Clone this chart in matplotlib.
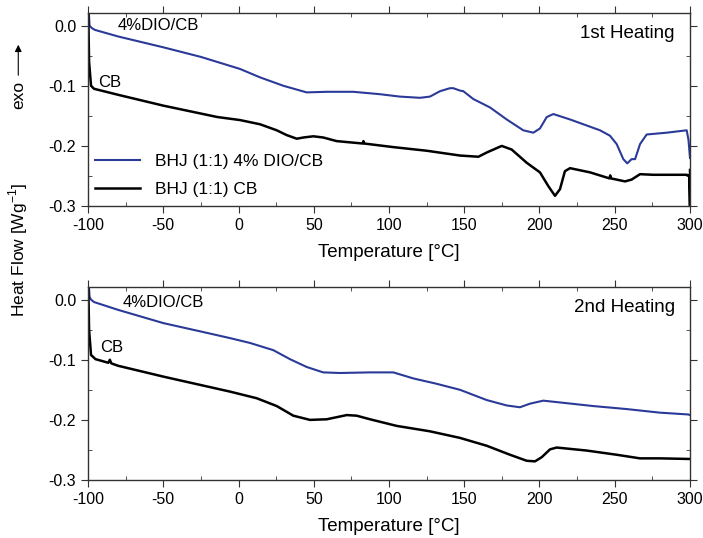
import numpy as np
import matplotlib.pyplot as plt
from matplotlib.ticker import MultipleLocator

plt.rcParams['font.family'] = ['Liberation Sans', 'DejaVu Sans']
plt.rcParams['axes.unicode_minus'] = False

# 1st heating, 4% DIO/CB
t1_dio = [-100, -99, -97.5, -95.5, -80, -50, -25, 1, 14.3, 29.8, 45.3, 58.6, 76.3, 94, 107.3, 120.6, 127.2,
          133.9, 140.5, 142.7, 147.2, 149.4, 156, 167.1, 178.2, 189.2, 195.9, 200.3, 204.8, 209.2, 220.3, 229.1,
          240.2, 246.8, 251.3, 255.7, 258.3, 261.2, 263.5, 266.8, 271.2, 284.5, 297.8, 299, 300]
h1_dio = [0.05, 0.0, -0.004, -0.007, -0.018, -0.036, -0.052, -0.072, -0.086, -0.100, -0.111, -0.110, -0.110,
          -0.114, -0.118, -0.120, -0.118, -0.109, -0.104, -0.104, -0.108, -0.109, -0.122, -0.136, -0.156, -0.174,
          -0.178, -0.171, -0.152, -0.147, -0.156, -0.164, -0.174, -0.183, -0.197, -0.222, -0.229, -0.222, -0.222,
          -0.197, -0.181, -0.178, -0.174, -0.190, -0.220]
# 1st heating, CB
t1_cb = [-100, -99.3, -98, -96, -80, -50, -14, 1, 14.3, 25.4, 32, 38.7, 43.1, 49.7, 56.3, 65.2, 82.5, 83, 83.5,
         102.9, 125, 147.2, 159.4, 164.9, 174.9, 181.5, 191.5, 200.3, 205.9, 210.3, 213.6, 216.9, 220.3, 233.6,
         246.5, 247, 247.5, 256.8, 261.2, 266.8, 275.6, 297.8, 299.5, 300, 300]
h1_cb = [0.05, -0.06, -0.100, -0.105, -0.115, -0.133, -0.152, -0.157, -0.164, -0.174, -0.182, -0.188, -0.186,
         -0.184, -0.186, -0.192, -0.196, -0.192, -0.196, -0.202, -0.208, -0.216, -0.218, -0.211, -0.200, -0.206,
         -0.228, -0.244, -0.267, -0.283, -0.272, -0.242, -0.237, -0.244, -0.254, -0.249, -0.254, -0.259, -0.256,
         -0.247, -0.248, -0.248, -0.250, -0.300, -0.240]

# 2nd heating, 4% DIO/CB
t2_dio = [-100, -99, -98, -96, -80, -50, -25, -5.6, 7.6, 23.1, 34.2, 45.3, 56.3, 67.4, 87.4, 102.9, 116.1,
          131.7, 147.2, 164.9, 178.2, 187, 193.7, 202.5, 213.6, 235.7, 257.9, 280.1, 298.9, 300]
h2_dio = [0.05, 0.005, 0.0, -0.004, -0.017, -0.039, -0.053, -0.064, -0.072, -0.084, -0.099, -0.112, -0.121,
          -0.122, -0.121, -0.121, -0.131, -0.140, -0.150, -0.167, -0.176, -0.179, -0.173, -0.168, -0.171, -0.177,
          -0.182, -0.188, -0.191, -0.192]
# 2nd heating, CB
t2_cb = [-100, -99.3, -98, -95, -86.5, -85.5, -84.5, -80, -50, -5.6, 12.1, 25.4, 36.4, 47.5, 58.6, 71.9, 78.5,
         87.4, 105.1, 127.2, 147.2, 164.9, 180.4, 191.5, 197, 201.5, 207, 211.4, 231.3, 251.3, 266.8, 280.1,
         298.9, 300]
h2_cb = [0.05, -0.05, -0.092, -0.099, -0.105, -0.100, -0.106, -0.110, -0.128, -0.153, -0.164, -0.177, -0.193,
         -0.200, -0.199, -0.192, -0.193, -0.199, -0.210, -0.219, -0.230, -0.243, -0.258, -0.268, -0.269, -0.262,
         -0.249, -0.246, -0.251, -0.258, -0.264, -0.264, -0.265, -0.265]

blue = '#2b3a98'
fig = plt.figure(figsize=(7.03, 5.38), dpi=100)
ax1 = fig.add_axes([0.1252, 0.617, 0.8563, 0.3588])
ax2 = fig.add_axes([0.1252, 0.1078, 0.8563, 0.3587])

for ax in (ax1, ax2):
    ax.set_xlim(-100, 300)
    ax.set_ylim(-0.3, 0.021)
    ax.xaxis.set_major_locator(MultipleLocator(50))
    ax.xaxis.set_minor_locator(MultipleLocator(25))
    ax.yaxis.set_major_locator(MultipleLocator(0.1))
    ax.yaxis.set_minor_locator(MultipleLocator(0.05))
    ax.yaxis.set_major_formatter(plt.FuncFormatter(lambda v, p: '%.1f' % v))
    ax.tick_params(which='major', direction='out', length=5, labelsize=11.5, color='#333333')
    ax.tick_params(which='minor', direction='in', length=3, color='#333333')
    ax.tick_params(which='both', top=True, right=True)
    ax.set_xlabel('Temperature [°C]', fontsize=13.5, labelpad=8)
    for s in ax.spines.values():
        s.set_linewidth(1.0)
        s.set_color('#333333')

ax1.plot(t1_dio, h1_dio, color=blue, lw=1.5, label='BHJ (1:1) 4% DIO/CB')
ax1.plot(t1_cb, h1_cb, color='black', lw=1.8, label='BHJ (1:1) CB')
ax1.text(-80, 0.0, '4%DIO/CB', fontsize=12, va='center')
ax1.text(-93, -0.095, 'CB', fontsize=12, va='center')
ax1.text(290, -0.013, '1st Heating', fontsize=13.5, ha='right', va='center')
ax1.legend(loc='lower left', bbox_to_anchor=(-0.015, -0.035), frameon=False, fontsize=12.5,
           handlelength=2.6, handletextpad=0.9, labelspacing=0.75)

ax2.plot(t2_dio, h2_dio, color=blue, lw=1.5)
ax2.plot(t2_cb, h2_cb, color='black', lw=1.8)
ax2.text(-77, -0.004, '4%DIO/CB', fontsize=12, va='center')
ax2.text(-92, -0.08, 'CB', fontsize=12, va='center')
ax2.text(290, -0.013, '2nd Heating', fontsize=13.5, ha='right', va='center')

fig.text(0.026, 0.535, r'Heat Flow [Wg$^{\mathregular{-1}}$]', rotation=90, fontsize=12.5, ha='center', va='center')
fig.text(0.026, 0.823, 'exo', rotation=90, fontsize=12.5, ha='center', va='center')
fig.add_artist(plt.Annotation('', xy=(0.026, 0.922), xytext=(0.026, 0.855), xycoords='figure fraction',
                              arrowprops=dict(arrowstyle='-|>', color='black', lw=0.8, mutation_scale=10)))

fig.savefig('out.png', dpi=100)
